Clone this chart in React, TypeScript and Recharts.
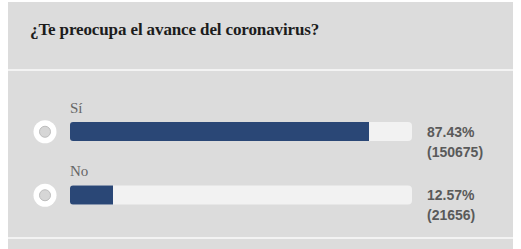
import React from "react";
import { Bar, BarChart, XAxis, YAxis } from "recharts";

const question = "¿Te preocupa el avance del coronavirus?";
const options = ["Sí", "No"];
const percents = [87.43, 12.57];
const votes = [150675, 21656];

const data = options.map((name, i) => ({ name, pct: percents[i], votes: votes[i] }));

const OptionTick = (props: any) => {
  const { x, y, payload } = props;
  return (
    <g>
      <circle cx={x - 25} cy={y} r={11.5} fill="#ffffff" />
      <circle cx={x - 25} cy={y} r={5.5} fill="#d6d6d6" stroke="#bdbdbd" strokeWidth={1} />
      <text
        x={x}
        y={y - 24}
        dy={5}
        fill="#666"
        fontSize={15}
        fontFamily="'Liberation Serif', serif"
      >
        {payload.value}
      </text>
    </g>
  );
};

const ValueTick = (props: any) => {
  const { x, y, payload } = props;
  const i = options.indexOf(payload.value);
  return (
    <g fill="#5a5a5a" fontSize={14} fontWeight="bold" fontFamily="'Liberation Sans', Arial, sans-serif">
      <text x={x + 15} y={y} dy={5}>
        {percents[i].toFixed(2)}%
      </text>
      <text x={x + 15} y={y + 20} dy={5}>
        ({votes[i]})
      </text>
    </g>
  );
};

export default function App() {
  return (
    <div style={{ position: "absolute", left: 0, top: 0, width: 521, height: 249, background: "#fff", overflow: "hidden" }}>
      <div style={{ position: "absolute", left: 8, top: 2, width: 505, height: 247, background: "#dcdcdc" }} />
      <div style={{ position: "absolute", left: 8, top: 69, width: 505, height: 2, background: "#f3f3f3" }} />
      <div style={{ position: "absolute", left: 8, top: 237, width: 505, height: 2, background: "#f3f3f3" }} />
      <div
        style={{
          position: "absolute",
          left: 30,
          top: 18,
          fontFamily: "'Liberation Serif', serif",
          fontWeight: "bold",
          fontSize: 17,
          letterSpacing: -0.12,
          lineHeight: "24px",
          color: "#1c1c1c",
          whiteSpace: "nowrap",
        }}
      >
        {question}
      </div>
      <div style={{ position: "absolute", left: 0, top: 0 }}>
        <BarChart
          width={521}
          height={249}
          data={data}
          layout="vertical"
          margin={{ top: 100, right: 0, bottom: 22, left: 0 }}
        >
          <XAxis type="number" domain={[0, 100]} hide />
          <YAxis
            yAxisId="left"
            type="category"
            dataKey="name"
            width={70}
            tickSize={0}
            tickMargin={0}
            axisLine={false}
            tickLine={false}
            tick={<OptionTick />}
          />
          <YAxis
            yAxisId="right"
            orientation="right"
            type="category"
            dataKey="name"
            width={109}
            tickSize={0}
            tickMargin={0}
            axisLine={false}
            tickLine={false}
            tick={<ValueTick />}
          />
          <Bar
            yAxisId="left"
            dataKey="pct"
            barSize={19}
            fill="#2a4776"
            radius={[3, 0, 0, 3]}
            background={{ fill: "#f2f2f2", radius: 4 }}
            isAnimationActive={false}
          />
        </BarChart>
      </div>
    </div>
  );
}
